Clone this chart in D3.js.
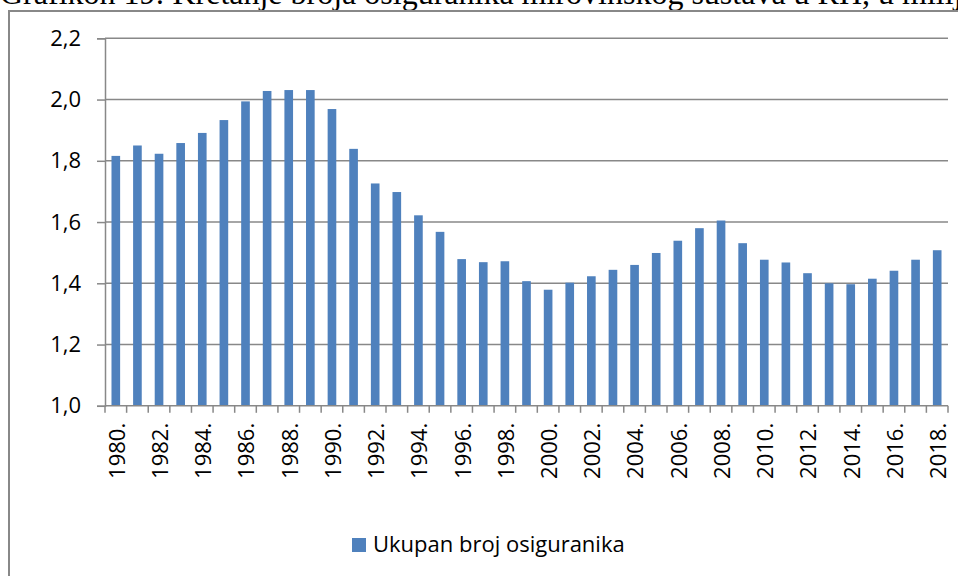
<!DOCTYPE html>
<html lang="hr">
<head>
  <meta charset="UTF-8" />
  <title>Grafikon 19</title>
  <script src="https://d3js.org/d3.v7.min.js"></script>
  <style>
    body { margin: 0; background: #fff; }
    svg { display: block; }
  </style>
</head>
<body>
  <svg width="958" height="576" id="chart"></svg>

  <script>
    const years = d3.range(1980, 2019).map(y => y + ".");
    const insured = [
      1.816, 1.850, 1.823, 1.858, 1.891, 1.933, 1.994, 2.028, 2.031, 2.031,
      1.969, 1.839, 1.726, 1.698, 1.622, 1.568, 1.479, 1.469, 1.472, 1.407,
      1.379, 1.402, 1.423, 1.444, 1.460, 1.499, 1.539, 1.580, 1.605, 1.531,
      1.477, 1.468, 1.433, 1.400, 1.397, 1.415, 1.441, 1.477, 1.508
    ];
    const yTicks = [1.0, 1.2, 1.4, 1.6, 1.8, 2.0, 2.2];
    const seriesName = "Ukupan broj osiguranika";
    const title = "Grafikon 19: Kretanje broja osiguranika mirovinskog sustava u RH, u milijunima";

    const svg = d3.select("#chart");
    const plotLeft = 105, plotRight = 948, plotTop = 38.3, plotBottom = 405.8;
    const gray = "#888888";
    const blue = "#4f81bd";
    const sans = "'Open Sans', sans-serif";

    const loc = d3.formatLocale({ decimal: ",", thousands: ".", grouping: [3], currency: ["", ""] });
    const fmt = loc.format(".1f");

    // title (cut off at the top, as in the source)
    svg.append("text")
      .attr("x", 0)
      .attr("y", 4)
      .attr("font-family", "'Liberation Serif', 'Times New Roman', serif")
      .attr("font-size", 32)
      .attr("fill", "#000")
      .text(title);

    // chart frame
    svg.append("rect")
      .attr("x", 9)
      .attr("y", 11)
      .attr("width", 1000)
      .attr("height", 700)
      .attr("fill", "none")
      .attr("stroke", gray)
      .attr("stroke-width", 2);

    const x = d3.scaleBand()
      .domain(years)
      .range([plotLeft, plotRight])
      .paddingInner(0.6)
      .paddingOuter(0.3);

    const y = d3.scaleLinear()
      .domain([1.0, 2.2])
      .range([plotBottom, plotTop]);

    // gridlines
    svg.append("g")
      .selectAll("line")
      .data(yTicks.slice(1))
      .join("line")
      .attr("x1", plotLeft)
      .attr("x2", plotRight)
      .attr("y1", d => y(d))
      .attr("y2", d => y(d))
      .attr("stroke", gray)
      .attr("stroke-width", 1.5);

    // y axis
    const yAxis = svg.append("g")
      .attr("transform", `translate(${plotLeft},0)`)
      .call(d3.axisLeft(y).tickValues(yTicks).tickFormat(fmt).tickSize(8).tickPadding(16));
    yAxis.select(".domain").attr("stroke", gray).attr("stroke-width", 1.5);
    yAxis.selectAll(".tick line").attr("stroke", gray).attr("stroke-width", 1.5);
    yAxis.selectAll(".tick text")
      .attr("font-family", sans)
      .attr("font-size", 22)
      .attr("fill", "#000");

    // bars
    svg.append("g")
      .selectAll("rect")
      .data(insured)
      .join("rect")
      .attr("x", (d, i) => x(years[i]))
      .attr("width", x.bandwidth())
      .attr("y", d => y(d))
      .attr("height", d => y(1.0) - y(d))
      .attr("fill", blue);

    // x axis: ticks at category boundaries
    const band = d3.scaleBand().domain(years).range([plotLeft, plotRight]);
    const xg = svg.append("g");
    xg.append("line")
      .attr("x1", plotLeft).attr("x2", plotRight)
      .attr("y1", plotBottom).attr("y2", plotBottom)
      .attr("stroke", gray).attr("stroke-width", 1.5);
    xg.selectAll("line.tk")
      .data(years.concat(["end"]))
      .join("line")
      .attr("class", "tk")
      .attr("x1", d => d === "end" ? plotRight : band(d))
      .attr("x2", d => d === "end" ? plotRight : band(d))
      .attr("y1", plotBottom)
      .attr("y2", plotBottom + 7)
      .attr("stroke", gray)
      .attr("stroke-width", 1.5);

    xg.selectAll("text")
      .data(years.filter((d, i) => i % 2 === 0))
      .join("text")
      .attr("transform", d => `translate(${band(d) + band.bandwidth() / 2 + 1},${plotBottom + 17}) rotate(-90)`)
      .attr("dy", "0.36em")
      .attr("text-anchor", "end")
      .attr("font-family", sans)
      .attr("font-size", 22)
      .attr("fill", "#000")
      .text(d => d);

    // legend
    const lg = svg.append("g");
    lg.append("rect")
      .attr("x", 352)
      .attr("y", 538)
      .attr("width", 14)
      .attr("height", 14)
      .attr("fill", blue);
    lg.append("text")
      .attr("x", 373)
      .attr("y", 552)
      .attr("font-family", sans)
      .attr("font-size", 22)
      .attr("fill", "#000")
      .text(seriesName);
  </script>
</body>
</html>
